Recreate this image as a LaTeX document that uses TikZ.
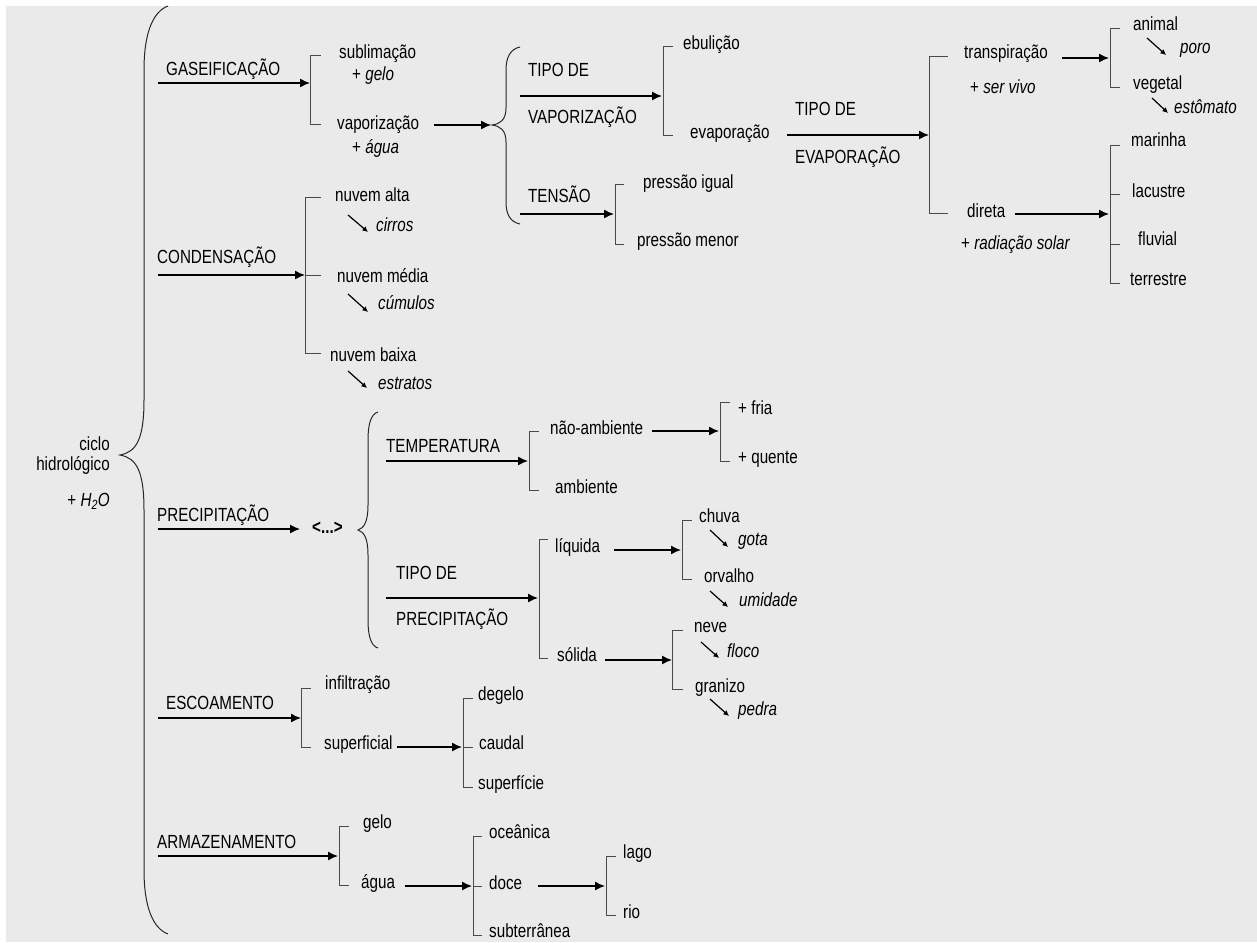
\documentclass[tikz,border=0pt]{standalone}
\usepackage{fontspec}
\setmainfont{Liberation Sans}[FakeStretch=0.8]
\usetikzlibrary{arrows.meta}
\definecolor{bgc}{HTML}{EAEAEA}
\definecolor{brc}{HTML}{4A4A4A}
\newcommand\labfont{\fontsize{19}{20}\selectfont}
\newcommand\lbl[4]{\node[lab] (#1) at (#2,#3+6) {#4};}
\newcommand\sarrow[5]{\coordinate (#1a) at (#2,#3); \coordinate (#1b) at (#4,#5); \draw[sarr] (#1a) -- (#1b);}
\newcommand\harrow[4]{\coordinate (#1a) at (#2,#4); \coordinate (#1b) at (#3,#4); \draw[arr] (#1a) -- (#1b);}
\begin{document}
\begin{tikzpicture}[x=1pt,y=-1pt,
  lab/.style={anchor=base west,inner sep=0pt,font=\labfont},
  rlab/.style={anchor=base east,inner sep=0pt,font=\labfont},
  arr/.style={line width=1.4pt,-{Latex[length=10pt,width=9pt]}},
  brk/.style={brc,line width=1pt},
  bracestyle/.style={black!85,line width=1pt},
  sarr/.style={line width=1.2pt,-{Latex[length=5.5pt,width=5.5pt]}}]
\useasboundingbox (0,0) rectangle (1257,942);
\fill[bgc] (6,6) rectangle (1257,942);

% main brace
\draw[bracestyle] (168,6) .. controls (152,12) and (144,35) .. (144,70) -- (144,400)
  .. controls (144,440) and (136,452) .. (120,455)
  .. controls (136,458) and (144,470) .. (144,510) -- (144,870)
  .. controls (144,905) and (152,928) .. (168,934);
\node[rlab] (ciclo) at (110,450) {ciclo};
\node[rlab] (hidro) at (110,470) {hidrológico};
\node[rlab] (h2o) at (110,506) {+ \textit{H\textsubscript{2}O}};

% ---------- GASEIFICACAO
\lbl{gas}{166}{69}{GASEIFICAÇÃO}
\harrow{gasar}{158}{310}{83}
\draw[brk] (321,56) -| (310,124) -- (321,124);
\lbl{subl}{339}{53}{sublimação}
\lbl{gelo1}{352}{75}{+ \textit{gelo}}
\lbl{vapo}{337}{123}{vaporização}
\lbl{agua1}{352}{147}{+ \textit{água}}
\harrow{vapar}{434}{491}{125}
\draw[bracestyle] (520,47) .. controls (510,49) and (506,58) .. (506,70) -- (506,108)
  .. controls (506,120) and (500,124) .. (492,125)
  .. controls (500,126) and (506,130) .. (506,142) -- (506,202)
  .. controls (506,214) and (510,222) .. (520,224);
\lbl{tipov1}{528}{71}{TIPO DE}
\lbl{tipov2}{528}{117}{VAPORIZAÇÃO}
\harrow{tipovar}{520}{662}{96}
\draw[brk] (673,47) -| (663,135) -- (673,135);
\lbl{ebul}{683}{43}{ebulição}
\lbl{evap}{690}{132}{evaporação}
\lbl{tens}{528}{196}{TENSÃO}
\harrow{tensar}{520}{614}{214}
\draw[brk] (624,184) -| (615,244) -- (624,244);
\lbl{pig}{643}{182}{pressão igual}
\lbl{pme}{637}{240}{pressão menor}
\lbl{tipoe1}{795}{109}{TIPO DE}
\lbl{tipoe2}{795}{157}{EVAPORAÇÃO}
\harrow{tipoear}{787}{929}{135}
\draw[brk] (948,57) -| (929,213) -- (948,213);
\lbl{trans}{964}{53}{transpiração}
\lbl{servivo}{970}{87}{+ \textit{ser vivo}}
\lbl{direta}{967}{211}{direta}
\lbl{radsol}{961}{243}{+ \textit{radiação solar}}
\harrow{transar}{1062}{1109}{58}
\draw[brk] (1120,29) -| (1110,87) -- (1120,87);
\lbl{animal}{1133}{25}{animal}
\sarrow{poroar}{1147}{38}{1166}{55}
\lbl{poro}{1180}{47}{\textit{poro}}
\lbl{vegetal}{1133}{83}{vegetal}
\sarrow{estar}{1152}{98}{1168}{113}
\lbl{estomato}{1174}{107}{\textit{estômato}}
\harrow{diretaar}{1015}{1109}{214}
\draw[brk] (1120,145) -| (1110,283) -- (1120,283);
\draw[brk] (1110,194) -- (1120,194);
\draw[brk] (1110,244) -- (1120,244);
\lbl{marinha}{1131}{140}{marinha}
\lbl{lacustre}{1132}{191}{lacustre}
\lbl{fluvial}{1138}{239}{fluvial}
\lbl{terrestre}{1130}{279}{terrestre}

% ---------- CONDENSACAO
\lbl{cond}{157}{257}{CONDENSAÇÃO}
\harrow{condar}{158}{305}{275}
\draw[brk] (321,197) -| (305,353) -- (321,353);
\draw[brk] (305,275) -- (321,275);
\lbl{nalta}{335}{195}{nuvem alta}
\sarrow{cirar}{348}{215}{368}{232}
\lbl{cirros}{376}{225}{\textit{cirros}}
\lbl{nmedia}{337}{276}{nuvem média}
\sarrow{cumar}{348}{294}{368}{312}
\lbl{cumulos}{378}{303}{\textit{cúmulos}}
\lbl{nbaixa}{330}{355}{nuvem baixa}
\sarrow{estrar}{348}{371}{367}{388}
\lbl{estratos}{378}{383}{\textit{estratos}}

% ---------- PRECIPITACAO
\lbl{prec}{157}{515}{PRECIPITAÇÃO}
\harrow{precar}{158}{300}{529}
\lbl{dots}{312}{527}{\textbf{<...>}}
\draw[bracestyle] (378,412) .. controls (371,414) and (368,424) .. (368,440) -- (368,505)
  .. controls (368,522) and (364,528) .. (358,530)
  .. controls (364,532) and (368,538) .. (368,555) -- (368,620)
  .. controls (368,636) and (371,646) .. (378,648);
\lbl{temp}{386}{446}{TEMPERATURA}
\harrow{tempar}{386}{528}{461}
\draw[brk] (539,431) -| (529,490) -- (539,490);
\lbl{namb}{550}{428}{não-ambiente}
\lbl{amb}{555}{487}{ambiente}
\harrow{nambar}{652}{719}{431}
\draw[brk] (730,402) -| (720,461) -- (730,461);
\lbl{fria}{738}{408}{+ fria}
\lbl{quente}{738}{457}{+ quente}
\lbl{tipop1}{396}{573}{TIPO DE}
\lbl{tipop2}{396}{619}{PRECIPITAÇÃO}
\harrow{tipopar}{386}{538}{598}
\draw[brk] (548,539) -| (539,658) -- (548,658);
\lbl{liq}{555}{546}{líquida}
\lbl{sol}{557}{655}{sólida}
\harrow{liqar}{614}{681}{550}
\draw[brk] (692,520) -| (682,579) -- (692,579);
\lbl{chuva}{699}{516}{chuva}
\sarrow{gotaar}{710}{530}{728}{547}
\lbl{gota}{738}{539}{\textit{gota}}
\lbl{orvalho}{704}{576}{orvalho}
\sarrow{umar}{710}{591}{728}{607}
\lbl{umidade}{739}{600}{\textit{umidade}}
\harrow{solar}{605}{672}{660}
\draw[brk] (683,630) -| (672,689) -- (683,689);
\lbl{neve}{694}{626}{neve}
\sarrow{flocoar}{701}{642}{719}{658}
\lbl{floco}{727}{651}{\textit{floco}}
\lbl{granizo}{695}{686}{granizo}
\sarrow{pedraar}{710}{699}{729}{716}
\lbl{pedra}{738}{709}{\textit{pedra}}

% ---------- ESCOAMENTO
\lbl{esc}{166}{703}{ESCOAMENTO}
\harrow{escar}{158}{301}{718}
\draw[brk] (311,688) -| (301,747) -- (311,747);
\lbl{infil}{325}{683}{infiltração}
\lbl{superf}{324}{743}{superficial}
\harrow{superar}{397}{462}{747}
\draw[brk] (473,698) -| (463,787) -- (473,787);
\draw[brk] (463,747) -- (473,747);
\lbl{degelo}{478}{694}{degelo}
\lbl{caudal}{479}{743}{caudal}
\lbl{superficie}{478}{783}{superfície}

% ---------- ARMAZENAMENTO
\lbl{arm}{157}{842}{ARMAZENAMENTO}
\harrow{armar}{158}{338}{856}
\draw[brk] (349,826) -| (339,885) -- (349,885);
\lbl{gelo2}{363}{822}{gelo}
\lbl{agua2}{361}{882}{água}
\harrow{aguaar}{405}{472}{886}
\draw[brk] (482,836) -| (473,935) -- (482,935);
\draw[brk] (473,886) -- (482,886);
\lbl{oceanica}{489}{832}{oceânica}
\lbl{doce}{489}{883}{doce}
\lbl{subter}{489}{931}{subterrânea}
\harrow{docear}{538}{605}{886}
\draw[brk] (616,856) -| (606,915) -- (616,915);
\lbl{lago}{623}{852}{lago}
\lbl{rio}{623}{912}{rio}
\end{tikzpicture}
\end{document}
